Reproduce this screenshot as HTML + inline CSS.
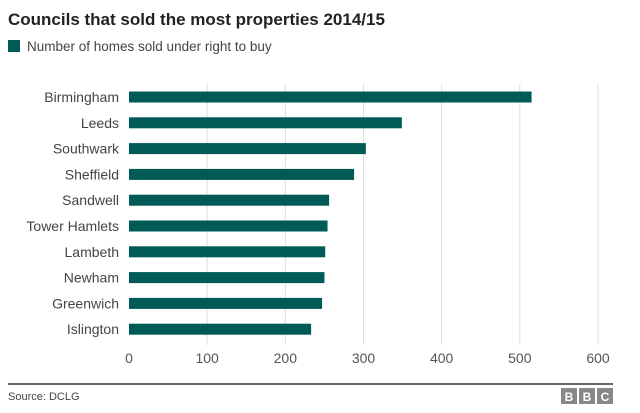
<!DOCTYPE html>
<html><head><meta charset="utf-8"><style>
body{margin:0;width:640px;height:413px;background:#fff;font-family:"Liberation Sans",sans-serif;overflow:hidden}
svg{display:block}
</style></head><body>
<svg width="640" height="413">
<text x="8" y="25" font-size="17" font-weight="bold" fill="#222">Councils that sold the most properties 2014/15</text>
<rect x="8" y="40" width="12" height="12" fill="#005a55"/>
<text x="27" y="51" font-size="13.5" fill="#444">Number of homes sold under right to buy</text>
<g id="grid"></g><g id="bars"></g><g id="labels"></g><g id="ticks"></g>
<line x1="8" y1="384" x2="613" y2="384" stroke="#333" stroke-width="1.5"/>
<text x="8" y="400" font-size="11" fill="#444">Source: DCLG</text>
<g>
<rect x="561" y="388" width="16" height="16" fill="#888"/><rect x="579" y="388" width="16" height="16" fill="#888"/><rect x="597" y="388" width="16" height="16" fill="#888"/>
<text x="569" y="401" font-size="12" font-weight="bold" fill="#fff" text-anchor="middle">B</text>
<text x="587" y="401" font-size="12" font-weight="bold" fill="#fff" text-anchor="middle">B</text>
<text x="605" y="401" font-size="12" font-weight="bold" fill="#fff" text-anchor="middle">C</text>
</g>
</svg>
<script>
const categories=["Birmingham","Leeds","Southwark","Sheffield","Sandwell","Tower Hamlets","Lambeth","Newham","Greenwich","Islington"];
const values=[515,349,303,288,256,254,251,250,247,233];
const ticks=[0,100,200,300,400,500,600];
const NS="http://www.w3.org/2000/svg";
const x=v=>129+v*(598-129)/600;
const y=i=>97+i*25.8;
function mk(t,a,p){const e=document.createElementNS(NS,t);for(const k in a)e.setAttribute(k,a[k]);document.getElementById(p).appendChild(e);return e;}
ticks.forEach(t=>{
 if(t>0){const g=mk('line',{x1:x(t),x2:x(t),y1:84,y2:345,stroke:'#ddd'},'grid');
 
 }
 const l=mk('text',{x:x(t),y:363,'font-size':14,fill:'#555','text-anchor':'middle'},'ticks');
 l.textContent=t;
 
 
});
categories.forEach((c,i)=>{
 const b=mk('rect',{x:x(0),y:y(i)-5.5,width:x(values[i])-x(0),height:11,fill:'#005a55'},'bars');
 
 
 const t=mk('text',{x:119,y:y(i)+5,'font-size':14,fill:'#444','text-anchor':'end'},'labels');
 t.textContent=c;
 
 
});
</script>
</body></html>
